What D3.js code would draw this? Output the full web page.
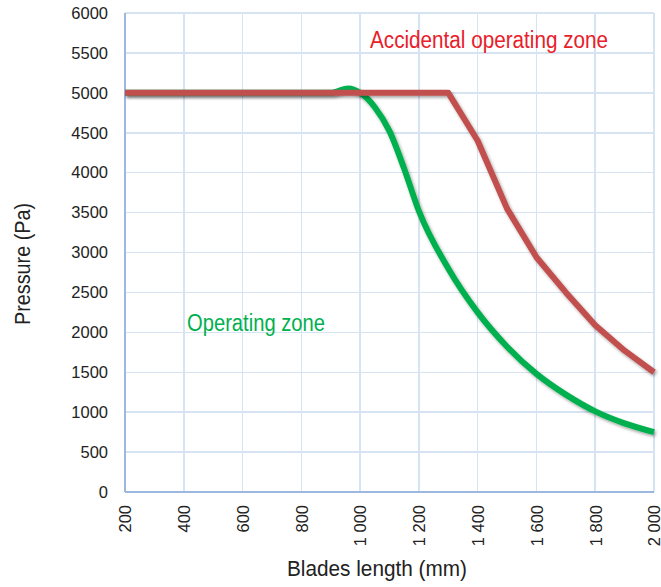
<!DOCTYPE html>
<html>
<meta charset="utf-8">
<style>
body {
  margin: 0;
  background: #fff;
}
text {
  font-family: "Liberation Sans", Arial, sans-serif;
}
.grid line {
  stroke: #d6e3f3;
  stroke-width: 1.5;
  shape-rendering: crispEdges;
}
.frame {
  stroke: #9cb8df;
  stroke-width: 2;
  shape-rendering: crispEdges;
}
.tick text {
  font-size: 16.5px;
  fill: #222;
}
</style>
<body>
<script src="https://d3js.org/d3.v7.min.js"></script>
<script>
// data
var lengths = [200, 900, 960, 1000, 1050, 1100, 1150, 1200, 1300, 1400, 1500, 1600, 1700, 1800, 1900, 2000];
var operating = [5000, 5000, 5055, 5000, 4820, 4520, 4050, 3520, 2800, 2250, 1820, 1480, 1220, 1010, 860, 750];

var accLengths = [200, 1300, 1400, 1500, 1600, 1700, 1800, 1900, 2000];
var accidental = [5000, 5000, 4400, 3550, 2940, 2500, 2090, 1770, 1500];

var xTicks = [200, 400, 600, 800, 1000, 1200, 1400, 1600, 1800, 2000];
var yTicks = [0, 500, 1000, 1500, 2000, 2500, 3000, 3500, 4000, 4500, 5000, 5500, 6000];

var width = 661, height = 587;

var x = d3.scaleLinear().domain([200, 2000]).range([125, 654]),
    y = d3.scaleLinear().domain([0, 6000]).range([492, 13]);

var svg = d3.select("body").append("svg")
    .attr("width", width)
    .attr("height", height);

var defs = svg.append("defs");
defs.append("filter")
    .attr("id", "shadow")
    .attr("x", "-5%").attr("y", "-5%")
    .attr("width", "110%").attr("height", "115%")
  .append("feDropShadow")
    .attr("dx", 1.5)
    .attr("dy", 2)
    .attr("stdDeviation", 1.5)
    .attr("flood-color", "#000")
    .attr("flood-opacity", 0.35);

// grid
var grid = svg.append("g").attr("class", "grid");
grid.selectAll(".v")
    .data(xTicks)
  .enter().append("line")
    .attr("x1", function(d) { return x(d); })
    .attr("x2", function(d) { return x(d); })
    .attr("y1", y(0))
    .attr("y2", y(6000));
grid.selectAll(".h")
    .data(yTicks)
  .enter().append("line")
    .attr("x1", x(200))
    .attr("x2", x(2000))
    .attr("y1", function(d) { return y(d); })
    .attr("y2", function(d) { return y(d); });

// left and bottom frame
svg.append("line").attr("class", "frame")
    .attr("x1", x(200)).attr("x2", x(200))
    .attr("y1", y(0)).attr("y2", y(6000));
svg.append("line").attr("class", "frame")
    .attr("x1", x(200)).attr("x2", x(2000))
    .attr("y1", y(0)).attr("y2", y(0));

// y axis
var yAxis = d3.axisLeft(y).tickValues(yTicks).tickSize(0).tickPadding(17)
    .tickFormat(d3.format("d"));
svg.append("g")
    .attr("transform", "translate(" + x(200) + ",0)")
    .call(yAxis)
    .call(function(g) { g.select(".domain").remove(); });

// x axis, thousands with a space
var fmt = function(d) { return d >= 1000 ? Math.floor(d / 1000) + " " + d3.format("03d")(d % 1000) : d; };
var xAxis = d3.axisBottom(x).tickValues(xTicks).tickSize(0).tickFormat(fmt);
var xg = svg.append("g")
    .attr("transform", "translate(0," + y(0) + ")")
    .call(xAxis)
    .call(function(g) { g.select(".domain").remove(); });
xg.selectAll(".tick text")
    .attr("transform", "rotate(-90)")
    .attr("x", -13)
    .attr("y", 0)
    .attr("dy", "0.35em")
    .style("text-anchor", "end");

// curves
var greenLine = d3.line()
    .x(function(d, i) { return x(lengths[i]); })
    .y(function(d) { return y(d); })
    .curve(d3.curveMonotoneX);

var redLine = d3.line()
    .x(function(d, i) { return x(accLengths[i]); })
    .y(function(d) { return y(d); });

svg.append("path")
    .datum(operating)
    .attr("d", greenLine)
    .attr("fill", "none")
    .attr("stroke", "#00b04f")
    .attr("stroke-width", 6)
    .attr("stroke-linejoin", "round")
    .attr("filter", "url(#shadow)");

svg.append("path")
    .datum(accidental)
    .attr("d", redLine)
    .attr("fill", "none")
    .attr("stroke", "#c0504d")
    .attr("stroke-width", 6)
    .attr("stroke-linejoin", "round")
    .attr("filter", "url(#shadow)");

// zone labels (condensed look via textLength)
svg.append("text")
    .attr("x", 370)
    .attr("y", 48)
    .attr("textLength", 238)
    .attr("lengthAdjust", "spacingAndGlyphs")
    .style("font-size", "23px")
    .style("fill", "#e8202a")
    .text("Accidental operating zone");

svg.append("text")
    .attr("x", 187)
    .attr("y", 331)
    .attr("textLength", 138)
    .attr("lengthAdjust", "spacingAndGlyphs")
    .style("font-size", "23px")
    .style("fill", "#00b04f")
    .text("Operating zone");

// axis titles
svg.append("text")
    .attr("x", 287)
    .attr("y", 576)
    .attr("textLength", 180)
    .attr("lengthAdjust", "spacingAndGlyphs")
    .style("font-size", "22px")
    .style("fill", "#222")
    .text("Blades length (mm)");

svg.append("text")
    .attr("transform", "translate(30,325) rotate(-90)")
    .attr("textLength", 122)
    .attr("lengthAdjust", "spacingAndGlyphs")
    .style("font-size", "22px")
    .style("fill", "#222")
    .text("Pressure (Pa)");
</script>
</body>
</html>
